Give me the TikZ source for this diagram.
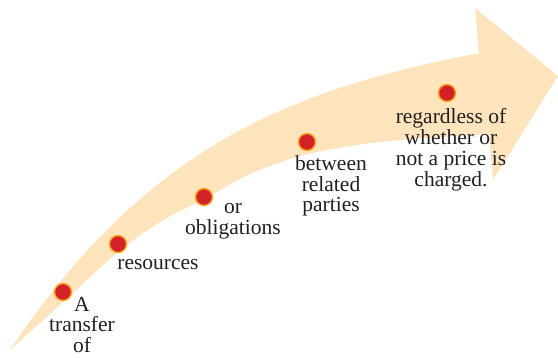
\documentclass[tikz,border=0pt]{standalone}
\usepackage{fontspec}
\setmainfont{Liberation Serif}
\definecolor{arrowpeach}{RGB}{253,228,189}
\definecolor{dotred}{RGB}{211,33,40}
\definecolor{dotorange}{RGB}{249,165,27}
\definecolor{txt}{RGB}{35,31,32}
\begin{document}
\begin{tikzpicture}[x=1pt,y=-1pt,
  dotmark/.style={circle,fill=dotred,draw=dotorange,line width=1.4pt,minimum size=17pt,inner sep=0pt},
  lbl/.style={anchor=base,inner sep=0pt,align=center,text=txt,font=\fontsize{21.5}{20.7}\selectfont}]
\useasboundingbox (0,0) rectangle (558,357);
\fill[arrowpeach] (10,350) .. controls (150,140) and (300,88) .. (479,53)
  -- (475,8) -- (558,76) -- (493,180) -- (489,134)
  -- plot[smooth,tension=0.5] coordinates {(489,134) (400,140) (350,146) (300,156) (250,174) (204,199) (160,222) (118,252) (63,302) (10,350)} -- cycle;
\node[dotmark] (d1) at (63,292) {};
\node[dotmark] (d2) at (118,244) {};
\node[dotmark] (d3) at (204,197) {};
\node[dotmark] (d4) at (307,142) {};
\node[dotmark] (d5) at (447,93) {};
\node[lbl] (t1) at (82,352.5) {A\\transfer\\of};
\node[lbl] (t2) at (158,269) {resources};
\node[lbl] (t3) at (233,234) {or\\obligations};
\node[lbl] (t4) at (331,211.7) {between\\related\\parties};
\node[lbl] (t5) at (451,186) {regardless of\\whether or\\not a price is\\charged.};
\end{tikzpicture}
\end{document}
